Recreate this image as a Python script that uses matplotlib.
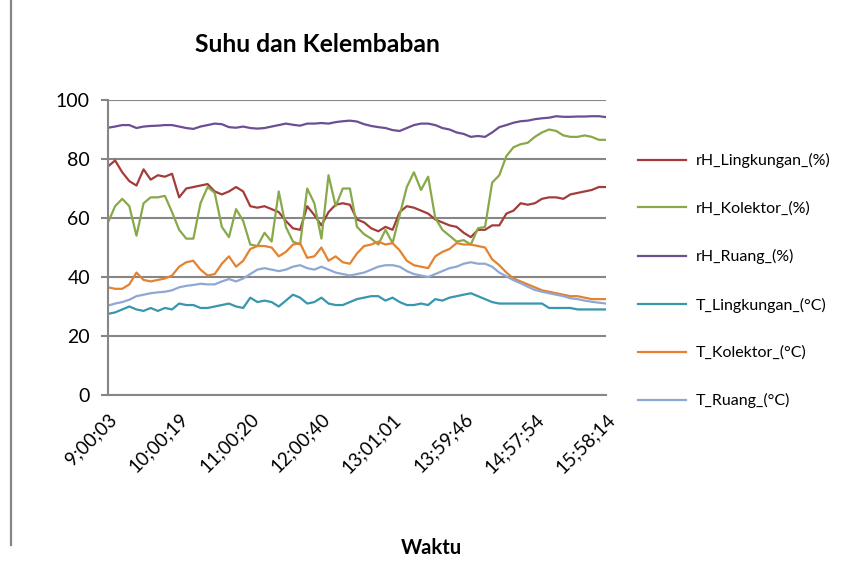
import matplotlib
matplotlib.use("Agg")
import matplotlib.pyplot as plt
from matplotlib.lines import Line2D

plt.rcParams['font.family'] = ['Lato', 'DejaVu Sans']

tick_labels = ["9;00;03", "10;00;19", "11;00;20", "12;00;40",
               "13;01;01", "13;59;46", "14;57;54", "15;58;14"]

rh_lingkungan = [77.5, 79.5, 75.5, 72.5, 71, 76.5, 73, 74.5, 74, 75, 67, 70, 70.5, 71, 71.5, 69, 68, 69,
                 70.5, 69, 64, 63.5, 64, 63, 62, 59, 56.5, 56, 64, 61, 57.5, 62, 64.5, 65, 64.5, 59.5,
                 58.5, 56.5, 55.5, 57, 56, 62, 64, 63.5, 62.5, 61.5, 59.5, 58.5, 57.5, 57, 55, 53.5, 56,
                 56, 57.5, 57.5, 61.5, 62.5, 65, 64.5, 65, 66.5, 67, 67, 66.5, 68, 68.5, 69, 69.5, 70.5, 70.5]
rh_kolektor = [58.5, 64, 66.5, 64, 54, 65, 67, 67, 67.5, 62, 56, 53, 53, 65, 70.5, 68.5, 57, 53.5,
               63, 59, 51, 50.5, 55, 52, 69, 57, 52, 51, 70, 65, 53, 74.5, 64, 70, 70, 57,
               54.5, 53, 51, 56, 51.5, 61, 70.5, 75.5, 69.5, 74, 60, 56, 54, 52, 52.5, 51, 56.5,
               57, 72, 74.5, 81, 84, 85, 85.5, 87.5, 89, 90, 89.5, 88, 87.5, 87.5, 88, 87.5, 86.5, 86.5]
rh_ruang = [90.6, 91.0, 91.5, 91.5, 90.5, 91.0, 91.2, 91.3, 91.5, 91.5, 91.0, 90.5, 90.2, 91.0, 91.5, 92.0, 91.8, 90.8,
            90.6, 91.0, 90.5, 90.3, 90.5, 91.0, 91.5, 92.0, 91.6, 91.3, 92.0, 92.0, 92.2, 92.0, 92.5, 92.8, 93.0, 92.7,
            91.8, 91.2, 90.8, 90.5, 89.8, 89.5, 90.5, 91.5, 92.0, 92.0, 91.5, 90.5, 90.0, 89.0, 88.5, 87.5, 87.8,
            87.5, 89.0, 90.8, 91.5, 92.3, 92.8, 93.0, 93.5, 93.8, 94.0, 94.5, 94.3, 94.3, 94.4, 94.4, 94.5, 94.5, 94.2]
t_lingkungan = [27.5, 28, 29, 30, 29, 28.5, 29.5, 28.5, 29.5, 29, 31, 30.5, 30.5, 29.5, 29.5, 30, 30.5, 31,
                30, 29.5, 33, 31.5, 32, 31.5, 30, 32, 34, 33, 31, 31.5, 33, 31, 30.5, 30.5, 31.5, 32.5,
                33, 33.5, 33.5, 32, 33, 31.5, 30.5, 30.5, 31, 30.5, 32.5, 32, 33, 33.5, 34, 34.5, 33.5,
                32.5, 31.5, 31, 31, 31, 31, 31, 31, 31, 29.5, 29.5, 29.5, 29.5, 29, 29, 29, 29, 29]
t_kolektor = [36.5, 36, 36, 37.5, 41.5, 39, 38.5, 39, 39.5, 40.5, 43.5, 45, 45.5, 42.5, 40.5, 41, 44.5, 47,
              43.5, 45.5, 49.5, 50.5, 50.5, 50, 47, 48.5, 51, 51.5, 46.5, 47, 50, 45.5, 47, 45, 44.5, 48,
              50.5, 51, 52, 51, 51.5, 49, 45.5, 44, 43.5, 43, 47, 48.5, 49.5, 51.5, 51, 51, 50.5,
              50, 46, 44, 41.5, 39.5, 38.5, 37.5, 36.5, 35.5, 35, 34.5, 34, 33.5, 33.5, 33, 32.5, 32.5, 32.5]
t_ruang = [30.3, 31, 31.5, 32.3, 33.5, 34, 34.5, 34.8, 35, 35.5, 36.5, 37, 37.3, 37.7, 37.5, 37.5, 38.5, 39.3,
           38.5, 39.5, 41, 42.5, 43, 42.5, 42, 42.5, 43.5, 44, 43, 42.5, 43.5, 42.5, 41.5, 41, 40.5, 41,
           41.5, 42.5, 43.5, 44, 44, 43.5, 42, 41, 40.5, 40, 41, 42, 43, 43.5, 44.5, 45, 44.5,
           44.5, 43.5, 41.5, 40.2, 38.9, 37.9, 36.7, 35.6, 35, 34.5, 34, 33.5, 32.8, 32.5, 32, 31.6, 31.3, 31]

series = [
    ("rH_Lingkungan_(%)", rh_lingkungan, "#A33D3A"),
    ("rH_Kolektor_(%)", rh_kolektor, "#88A94A"),
    ("rH_Ruang_(%)", rh_ruang, "#6C4E93"),
    ("T_Lingkungan_(°C)", t_lingkungan, "#3896AE"),
    ("T_Kolektor_(°C)", t_kolektor, "#E5822F"),
    ("T_Ruang_(°C)", t_ruang, "#8EA8D4"),
]

W, H = 841, 561
fig = plt.figure(figsize=(W / 100, H / 100), dpi=100)
ax = fig.add_axes([108 / W, 1 - 395 / H, (606 - 108) / W, (395 - 100) / H])

n = len(rh_lingkungan)
x = list(range(n))
for name, vals, col in series:
    ax.plot(x, vals, color=col, lw=1.6, label=name, solid_joinstyle='round')

grid_col = "#868686"
ax.set_ylim(0, 100)
ax.set_yticks(range(0, 101, 20))
ax.set_xlim(0, n - 1)
step = (n - 1) // (len(tick_labels) - 1)
ax.set_xticks([i * step for i in range(len(tick_labels))])
ax.set_xticklabels(tick_labels, rotation=45, ha='right', va='top',
                   rotation_mode='anchor', fontsize=13.5)
ax.tick_params(axis='x', length=0, pad=11)
ax.tick_params(axis='y', length=5, width=1.5, color=grid_col, labelsize=14, pad=8)
ax.yaxis.grid(True, color=grid_col, lw=1.5)
ax.set_axisbelow(True)
for s in ['top', 'right']:
    ax.spines[s].set_visible(False)
for s in ['left', 'bottom']:
    ax.spines[s].set_color(grid_col)
    ax.spines[s].set_linewidth(1.5)

fig.text(317 / W, 1 - 45 / H, "Suhu dan Kelembaban", ha='center', va='center',
         fontsize=17.8, fontweight='bold')
fig.text(431 / W, 1 - 548 / H, "Waktu", ha='center', va='center',
         fontsize=14.5, fontweight='bold')

leg = fig.legend(loc='upper left', bbox_to_anchor=(624 / W, 1 - 139 / H),
                 frameon=False, fontsize=11.5, handlelength=3.0,
                 handletextpad=0.6, labelspacing=2.08)

fig.add_artist(Line2D([11 / W, 11 / W], [1 - 545 / H, 1.0], color=grid_col, lw=1.6))

fig.savefig("out.png", dpi=100)
